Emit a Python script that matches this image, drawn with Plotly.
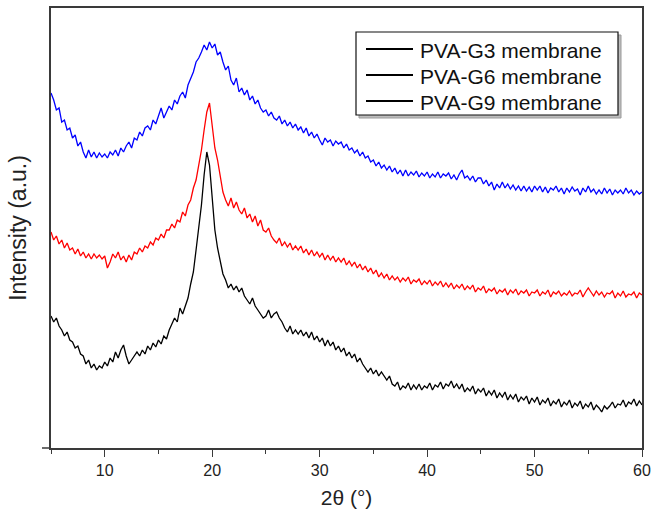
import numpy as np
import plotly.graph_objects as go

# 2-theta sampling grid (degrees), 0.25 deg step from 5 to 60
two_theta = np.linspace(5, 60, 221)

# Intensities (arbitrary units, already offset for stacking)
pva_g3 = [
    357, 350, 340, 342, 328, 330, 320, 322, 312, 315, 304, 308, 298, 292, 300, 293,
    298, 292, 297, 293, 296, 292, 298, 295, 300, 294, 302, 298, 304, 308, 302, 312,
    310, 318, 314, 322, 324, 320, 330, 326, 334, 342, 332, 338, 344, 340, 350, 346,
    354, 358, 352, 365, 372, 378, 388, 392, 398, 405, 400, 408, 402, 406, 395, 398,
    388, 380, 384, 370, 365, 372, 358, 362, 355, 360, 350, 354, 346, 350, 342, 338,
    340, 334, 338, 332, 330, 334, 326, 330, 324, 328, 322, 326, 320, 323, 317, 322,
    314, 318, 312, 316, 310, 305, 312, 308, 310, 304, 309, 306, 308, 302, 306, 300,
    302, 297, 300, 294, 298, 292, 294, 288, 290, 284, 288, 282, 285, 280, 284, 278,
    282, 276, 280, 274, 280, 274, 278, 275, 279, 273, 277, 274, 278, 272, 276, 273,
    278, 272, 276, 274, 277, 271, 275, 270, 276, 280, 272, 274, 270, 274, 268, 272,
    272, 266, 270, 264, 268, 260, 266, 262, 268, 262, 266, 261, 265, 260, 264, 259,
    264, 259, 263, 258, 264, 260, 264, 258, 263, 257, 262, 260, 264, 258, 262, 256,
    262, 258, 263, 259, 261, 255, 262, 258, 264, 258, 261, 256, 260, 256, 262, 257,
    261, 255, 260, 257, 260, 256, 262, 257, 260, 255, 259, 256, 258,
]

pva_g6 = [
    218, 210, 214, 206, 210, 202, 207, 200, 202, 196, 201, 194, 198, 192, 196, 191,
    196, 192, 195, 191, 194, 182, 188, 196, 192, 198, 190, 194, 188, 195, 190, 198,
    196, 202, 198, 204, 202, 208, 205, 212, 210, 216, 212, 220, 220, 226, 222, 230,
    228, 238, 234, 245, 250, 262, 270, 285, 300, 320, 338, 347, 325, 302, 290, 275,
    258, 250, 244, 252, 242, 248, 240, 236, 242, 232, 236, 228, 234, 224, 230, 220,
    218, 222, 214, 210, 207, 212, 204, 208, 203, 207, 200, 204, 200, 204, 197, 201,
    195, 200, 194, 198, 193, 197, 190, 195, 190, 194, 188, 192, 188, 192, 185, 189,
    184, 188, 182, 186, 180, 184, 178, 182, 176, 180, 173, 177, 172, 176, 170, 174,
    170, 173, 168, 172, 169, 173, 166, 170, 168, 171, 165, 169, 166, 170, 164, 168,
    165, 169, 163, 167, 163, 167, 161, 165, 162, 166, 160, 164, 161, 165, 158, 162,
    160, 164, 157, 161, 159, 162, 156, 160, 158, 161, 155, 160, 157, 161, 155, 159,
    157, 160, 154, 158, 157, 160, 154, 158, 156, 160, 153, 158, 156, 159, 154, 157,
    155, 159, 154, 157, 156, 160, 153, 158, 162, 158, 154, 159, 155, 158, 153, 157,
    156, 159, 152, 157, 154, 159, 153, 156, 155, 158, 152, 157, 155,
]

pva_g9 = [
    134, 128, 132, 124, 120, 114, 118, 110, 108, 102, 104, 96, 94, 86, 90, 82,
    86, 80, 84, 82, 88, 84, 92, 88, 98, 92, 100, 105, 94, 86, 90, 94,
    98, 94, 100, 96, 104, 100, 107, 103, 110, 106, 114, 111, 120, 126, 132, 128,
    142, 136, 144, 152, 166, 178, 200, 220, 245, 275, 298, 285, 250, 220, 202, 188,
    176, 170, 162, 166, 160, 164, 158, 162, 154, 150, 146, 152, 144, 140, 136, 132,
    134, 140, 132, 136, 138, 132, 128, 122, 118, 124, 116, 120, 116, 120, 114, 118,
    112, 118, 110, 114, 108, 112, 104, 110, 104, 108, 100, 104, 98, 102, 94, 98,
    92, 96, 88, 92, 86, 82, 78, 82, 76, 80, 74, 78, 74, 70, 74, 66,
    64, 68, 60, 64, 62, 67, 60, 65, 61, 66, 60, 64, 62, 67, 60, 65,
    63, 68, 61, 66, 64, 69, 62, 66, 61, 66, 58, 62, 59, 64, 56, 61,
    58, 62, 54, 59, 55, 60, 52, 57, 53, 58, 50, 55, 51, 56, 48, 53,
    50, 54, 46, 52, 48, 53, 45, 50, 47, 52, 44, 49, 46, 51, 43, 48,
    45, 50, 42, 47, 44, 49, 41, 46, 43, 48, 40, 45, 42, 38, 44, 41,
    44, 48, 42, 46, 45, 50, 43, 48, 46, 51, 44, 49, 45,
]

series_names = ["PVA-G3 membrane", "PVA-G6 membrane", "PVA-G9 membrane"]
series_colors = ["#0000ff", "#ff0000", "#000000"]
x_ticks = [10, 20, 30, 40, 50, 60]

fig = go.Figure()
for name, vals, col in zip(series_names, [pva_g3, pva_g6, pva_g9], series_colors):
    fig.add_trace(go.Scatter(
        x=two_theta[:len(vals)], y=vals, mode="lines", name=name,
        line=dict(color=col, width=1.3), showlegend=False,
    ))

FONT = "Liberation Sans, Arial, sans-serif"
AX = "#3a3a3a"

# hand-drawn style legend (all legend lines black, as in the original)
L, R, T, B = 51, 642, 8, 448
def px(x):
    return (x - L) / (R - L)
def py(y):
    return (B - y) / (B - T)

shapes = [
    # legend shadow
    dict(type="rect", xref="paper", yref="paper", x0=px(359), x1=px(621), y0=py(118), y1=py(35),
         line=dict(color="#9a9a9a", width=1), fillcolor="#bdbdbd", layer="above"),
    # legend box
    dict(type="rect", xref="paper", yref="paper", x0=px(356), x1=px(618), y0=py(115), y1=py(32),
         line=dict(color="#111111", width=1.2), fillcolor="white", layer="above"),
    # bottom axis extension to the left
    dict(type="line", xref="paper", yref="paper", x0=px(42), x1=px(51), y0=0, y1=0,
         line=dict(color=AX, width=1.5)),
]
annotations = []
for i, name in enumerate(series_names):
    yc = [49, 75, 101][i]
    shapes.append(dict(type="line", xref="paper", yref="paper", x0=px(366), x1=px(413),
                       y0=py(yc), y1=py(yc), line=dict(color="black", width=2), layer="above"))
    annotations.append(dict(text=name, xref="paper", yref="paper", x=px(418), y=py(yc + 1),
                            xanchor="left", yanchor="middle", showarrow=False,
                            font=dict(family=FONT, size=21, color="#111111")))

fig.update_layout(
    width=652, height=511,
    margin=dict(l=51, r=10, t=8, b=63),
    paper_bgcolor="white", plot_bgcolor="white",
    font=dict(family=FONT, color="#222222"),
    shapes=shapes, annotations=annotations,
    xaxis=dict(
        range=[5, 60], tickvals=x_ticks, ticks="outside", ticklen=7, tickwidth=1.3,
        tickcolor=AX, showline=True, linecolor=AX, linewidth=1.5, mirror=True,
        showgrid=False, zeroline=False, tickfont=dict(size=16, color="#222222"),
        automargin=False,
        minor=dict(dtick=5, tick0=0, ticks="outside", ticklen=4, tickcolor=AX, tickwidth=1.2),
        title=dict(text="2θ (°)", font=dict(size=21, color="#222222"), standoff=12),
    ),
    yaxis=dict(
        range=[2, 442], showticklabels=False, ticks="", showline=True, linecolor=AX,
        linewidth=1.5, mirror=True, showgrid=False, zeroline=False, automargin=False,
        title=dict(text="Intensity (a.u.)", font=dict(size=23, color="#222222"), standoff=16),
    ),
)

fig.write_html("out.html", config={"displayModeBar": False})

# remove the browser's default page margin so the figure sits at the window origin
with open("out.html", "r", encoding="utf-8") as f:
    html = f.read()
html = html.replace("<head>", "<head><style>html,body{margin:0;padding:0;overflow:hidden;}</style>", 1)
with open("out.html", "w", encoding="utf-8") as f:
    f.write(html)
